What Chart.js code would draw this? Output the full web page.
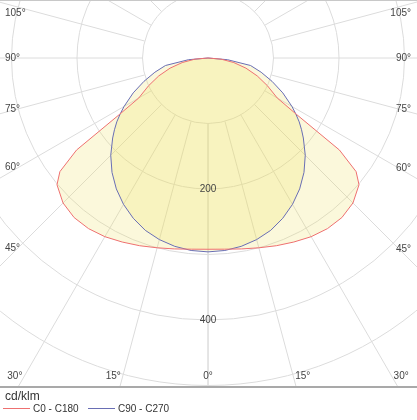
<!DOCTYPE html>
<html><head><meta charset="utf-8">
<script src="https://cdn.jsdelivr.net/npm/chart.js@4/dist/chart.umd.min.js"></script>
<style>html,body{margin:0;padding:0;background:#fff;overflow:hidden}#wrap{width:417px;height:420px;position:relative}</style>
</head><body><div id="wrap"><canvas id="c" width="417" height="420"></canvas></div>
<script>
// ---- data (cd/klm) ----
const gammaAngles = [0,5,10,15,20,25,30,35,40,45,50,52.5,55,57.5,60,65,70,75,80,85,90];
const c0c180  = [292,293,296,300,305,310,315,318,318,313,301,285,245,160,122,100,80,60,40,20,0];
const c90c270 = [296,295,292,287,280,270,258,244,228,210,190,180,170,159,148,126,104,84,66,30,0];
const seriesNames = ['C0 - C180','C90 - C270'];
const radialTicks = [100,200,300,400,500,600];
const radialTickLabels = [200,400];
const spokeAngles = [0,15,30,45,60,75,90,105,120,135,150,165,180];
const angleTickLabels = [0,15,30,45,60,75,90,105];
const unitLabel = 'cd/klm';

// ---- layout constants ----
const PX = 0.655;            // pixels per cd/klm
const CX = 208, CY = 58;     // pole position in pixels
const AREA_W = 417, AREA_H = 387;
const XMIN = -CX/PX, XMAX = (AREA_W-CX)/PX;
const YMAX = CY/PX, YMIN = -(AREA_H-CY)/PX;

const RAD = Math.PI/180;
function toPoints(vals){
  const pts = [];
  for (let i = gammaAngles.length-1; i >= 0; i--) {
    const g = gammaAngles[i]*RAD;
    pts.push({x: -vals[i]*Math.sin(g), y: -vals[i]*Math.cos(g)});
  }
  for (let i = 1; i < gammaAngles.length; i++) {
    const g = gammaAngles[i]*RAD;
    pts.push({x: vals[i]*Math.sin(g), y: -vals[i]*Math.cos(g)});
  }
  return pts;
}

const FONT = '"Liberation Sans", Arial, sans-serif';
const polarPlugin = {
  id: 'polarGrid',
  beforeDatasetsDraw(chart){
    const {ctx, chartArea:a, scales:{x, y}} = chart;
    const cx = x.getPixelForValue(0), cy = y.getPixelForValue(0);
    const k = x.getPixelForValue(100) - cx; // px per 100
    ctx.save();
    ctx.beginPath(); ctx.rect(a.left, a.top, a.right-a.left, a.bottom-a.top); ctx.clip();
    ctx.strokeStyle = '#dcdcdc'; ctx.lineWidth = 1;
    radialTicks.forEach(r => { ctx.beginPath(); ctx.arc(cx, cy, r/100*k, 0, Math.PI*2); ctx.stroke(); });
    const r0 = radialTicks[0]/100*k, r1 = 10*k;
    spokeAngles.forEach(g => {
      [-1,1].forEach(s => {
        const dx = s*Math.sin(g*RAD), dy = Math.cos(g*RAD);
        ctx.beginPath(); ctx.moveTo(cx+dx*r0, cy+dy*r0); ctx.lineTo(cx+dx*r1, cy+dy*r1); ctx.stroke();
      });
    });
    // fills
    chart.data.datasets.forEach((ds, i) => {
      const meta = chart.getDatasetMeta(i);
      ctx.beginPath();
      meta.data.forEach((p, j) => j ? ctx.lineTo(p.x, p.y) : ctx.moveTo(p.x, p.y));
      ctx.closePath();
      ctx.fillStyle = ds.backgroundColor; ctx.fill();
    });
    ctx.restore();
  },
  afterDatasetsDraw(chart){
    const {ctx, chartArea:a, scales:{x, y}} = chart;
    const cx = x.getPixelForValue(0), cy = y.getPixelForValue(0);
    const k = x.getPixelForValue(100) - cx;
    ctx.save();
    ctx.fillStyle = '#444'; ctx.font = '10px ' + FONT; ctx.textBaseline = 'middle';
    // radial labels
    ctx.textAlign = 'center';
    radialTickLabels.forEach(r => ctx.fillText(String(r), cx, cy + r/100*k));
    // angle labels
    const by = a.bottom - 11;
    angleTickLabels.forEach(g => {
      const t = g*RAD;
      if (g <= 30) {
        if (g === 0) { ctx.textAlign = 'center'; ctx.fillText(g+'°', cx, by); return; }
        const off = (by-cy)*Math.tan(t);
        ctx.textAlign = 'right'; ctx.fillText(g+'°', cx-off-2, by);
        ctx.textAlign = 'left'; ctx.fillText(g+'°', cx+off+2, by);
      } else {
        const yl = Math.max(a.top+13, cy + (cx-a.left-18)*Math.cos(t)/Math.sin(t));
        const yr = Math.max(a.top+13, cy + (a.right-18-cx)*Math.cos(t)/Math.sin(t));
        ctx.textAlign = 'left'; ctx.fillText(g+'°', a.left+5, yl);
        ctx.textAlign = 'right'; ctx.fillText(g+'°', a.right-6, yr);
      }
    });
    // frame lines
    ctx.strokeStyle = '#c8c8c8'; ctx.lineWidth = 1;
    ctx.beginPath(); ctx.moveTo(a.left, a.top+0.5); ctx.lineTo(a.right, a.top+0.5); ctx.stroke();
    ctx.strokeStyle = '#a9a9a9'; ctx.lineWidth = 2;
    ctx.beginPath(); ctx.moveTo(a.left, a.bottom); ctx.lineTo(a.right, a.bottom); ctx.stroke();
    ctx.restore();
  },
  afterDraw(chart){
    const {ctx, chartArea:a} = chart;
    ctx.save();
    ctx.fillStyle = '#333'; ctx.textBaseline = 'middle'; ctx.textAlign = 'left';
    ctx.font = '12px ' + FONT;
    ctx.fillText(unitLabel, 5, a.bottom + 10);
    ctx.font = '10px ' + FONT;
    const ly = a.bottom + 22;
    const xs = [3, 88];
    chart.data.datasets.forEach((ds, i) => {
      ctx.strokeStyle = ds.borderColor; ctx.lineWidth = 1;
      ctx.beginPath(); ctx.moveTo(xs[i], ly - 0.5); ctx.lineTo(xs[i]+27, ly - 0.5); ctx.stroke();
      ctx.fillText(ds.label, xs[i]+30, ly);
    });
    ctx.restore();
  }
};

new Chart(document.getElementById('c'), {
  type: 'scatter',
  data: { datasets: [
    { label: seriesNames[0], data: toPoints(c0c180), showLine: true, borderColor: 'rgb(238,112,112)', backgroundColor: 'rgba(235,225,90,0.22)', borderWidth: 1, pointRadius: 0, tension: 0, fill: false },
    { label: seriesNames[1], data: toPoints(c90c270), showLine: true, borderColor: 'rgb(105,110,180)', backgroundColor: 'rgba(235,225,90,0.22)', borderWidth: 1, pointRadius: 0, tension: 0, fill: false }
  ]},
  options: {
    responsive: false, animation: false, devicePixelRatio: 1,
    layout: { padding: { left: 0, right: 0, top: 0, bottom: 420 - AREA_H } },
    scales: {
      x: { type: 'linear', min: XMIN, max: XMAX, display: false },
      y: { type: 'linear', min: YMIN, max: YMAX, display: false }
    },
    plugins: { legend: { display: false }, tooltip: { enabled: false } }
  },
  plugins: [polarPlugin]
});
</script></body></html>
